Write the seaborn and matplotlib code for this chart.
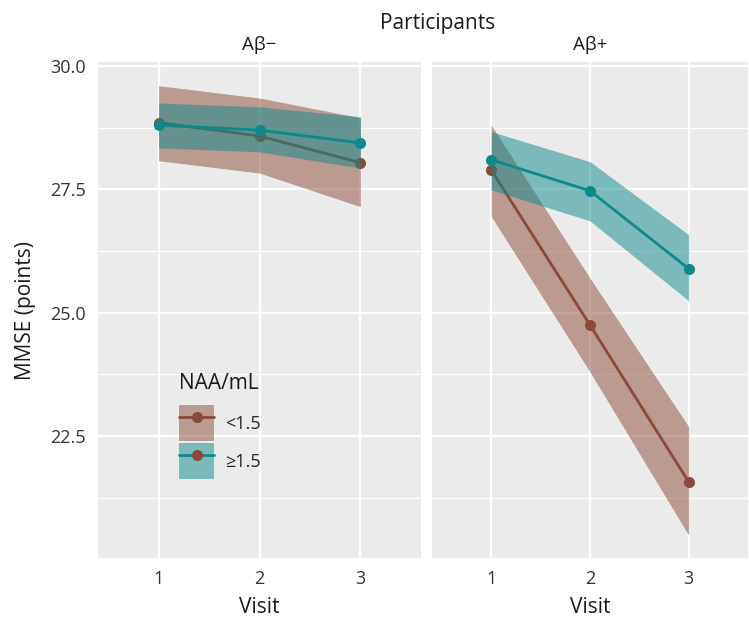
import matplotlib
matplotlib.use("Agg")
import matplotlib.pyplot as plt
import seaborn as sns
import pandas as pd
from matplotlib.patches import Patch
from matplotlib.lines import Line2D
from matplotlib.legend_handler import HandlerTuple

# ---- data ----
visits = [1, 2, 3]
groups = ["<1.5", "≥1.5"]
panels = ["Aβ−", "Aβ+"]

neg_low_mean = [28.85, 28.58, 28.04]
neg_low_lo = [28.08, 27.83, 27.15]
neg_low_hi = [29.60, 29.35, 28.95]
neg_high_mean = [28.80, 28.70, 28.44]
neg_high_lo = [28.34, 28.26, 27.93]
neg_high_hi = [29.25, 29.17, 28.97]

pos_low_mean = [27.89, 24.75, 21.57]
pos_low_lo = [26.95, 23.80, 20.49]
pos_low_hi = [28.80, 25.70, 22.69]
pos_high_mean = [28.10, 27.47, 25.89]
pos_high_lo = [27.49, 26.86, 25.24]
pos_high_hi = [28.67, 28.06, 26.58]

y_ticks = [22.5, 25.0, 27.5, 30.0]
y_tick_labels = ["22.5", "25.0", "27.5", "30.0"]

series = {
    ("Aβ−", "<1.5"): (neg_low_mean, neg_low_lo, neg_low_hi),
    ("Aβ−", "≥1.5"): (neg_high_mean, neg_high_lo, neg_high_hi),
    ("Aβ+", "<1.5"): (pos_low_mean, pos_low_lo, pos_low_hi),
    ("Aβ+", "≥1.5"): (pos_high_mean, pos_high_lo, pos_high_hi),
}

rows = []
for (p, g), (m, lo, hi) in series.items():
    for v, mm, l, h in zip(visits, m, lo, hi):
        rows.append(dict(panel=p, group=g, visit=v, mmse=mm, lo=l, hi=h))
df = pd.DataFrame(rows)

colors = {"<1.5": "#8B4A38", "≥1.5": "#0C8A8C"}
ALPHA = 0.5

sns.set_theme(style="darkgrid")
plt.rcParams["font.family"] = ["Open Sans", "DejaVu Sans"]

W, H = 749, 618
fig = plt.figure(figsize=(W / 100, H / 100), dpi=100)
top, bottom = 62, 558
ax1 = fig.add_axes([98 / W, (H - bottom) / H, (421 - 98) / W, (bottom - top) / H])
ax2 = fig.add_axes([432 / W, (H - bottom) / H, (748 - 432) / W, (bottom - top) / H], sharey=ax1)

for ax, p in zip([ax1, ax2], panels):
    ax.set_facecolor("#EBEBEB")
    z = 2
    for g in groups:
        d = df[(df.panel == p) & (df.group == g)]
        ax.fill_between(d.visit, d.lo, d.hi, color=colors[g], alpha=ALPHA, lw=0, zorder=z)
        sns.lineplot(data=d, x="visit", y="mmse", color=colors[g], lw=2.0,
                     marker="o", markersize=8, markeredgewidth=0, ax=ax, zorder=z + 1,
                     legend=False)
        z += 2
    ax.set_xlim(0.4, 3.6)
    ax.set_ylim(20.03, 30.08)
    ax.set_xticks(visits)
    ax.set_xticklabels([str(v) for v in visits])
    ax.set_yticks(y_ticks)
    ax.set_yticks([21.25, 23.75, 26.25, 28.75], minor=True)
    ax.grid(which="major", color="white", lw=1.6)
    ax.grid(which="minor", color="white", lw=0.8)
    ax.tick_params(axis="both", which="major", length=4, width=1.2, color="#333333",
                   labelsize=13, labelcolor="#333333", pad=5, direction="out")
    ax.tick_params(which="minor", length=0)
    for s in ax.spines.values():
        s.set_visible(False)
    ax.set_xlabel("Visit", fontsize=15, color="#1A1A1A", labelpad=6)
    ax.set_title(p, fontsize=13.5, color="#1A1A1A", pad=9)

ax1.set_yticklabels(y_tick_labels)
ax1.set_ylabel("MMSE (points)", fontsize=15, color="#1A1A1A", labelpad=10)
ax2.set_ylabel("")
ax2.tick_params(axis="y", which="both", left=False, labelleft=False)

fig.text(438 / W, 1 - 23 / H, "Participants", ha="center", va="center",
         fontsize=15, color="#1A1A1A")

# legend
handles = []
for g in groups:
    patch = Patch(facecolor=colors[g], alpha=ALPHA, edgecolor="none")
    line = Line2D([0], [0], color=colors[g], lw=2.0, marker="o",
                  markerfacecolor=colors["<1.5"], markeredgewidth=0, markersize=8)
    handles.append((patch, line))
leg = ax1.legend(handles, groups, title="NAA/mL",
                 handler_map={tuple: HandlerTuple(ndivide=1, pad=0)},
                 loc="upper left", bbox_to_anchor=(170 / W, 1 - 364 / H),
                 bbox_transform=fig.transFigure, frameon=False, borderpad=0,
                 fontsize=13, title_fontsize=15, handlelength=1.95, handleheight=2.7,
                 labelspacing=0.1, handletextpad=0.6, alignment="left")
leg.get_title().set_color("#1A1A1A")
leg._legend_box.sep = 8

fig.savefig("out.png", dpi=100)
